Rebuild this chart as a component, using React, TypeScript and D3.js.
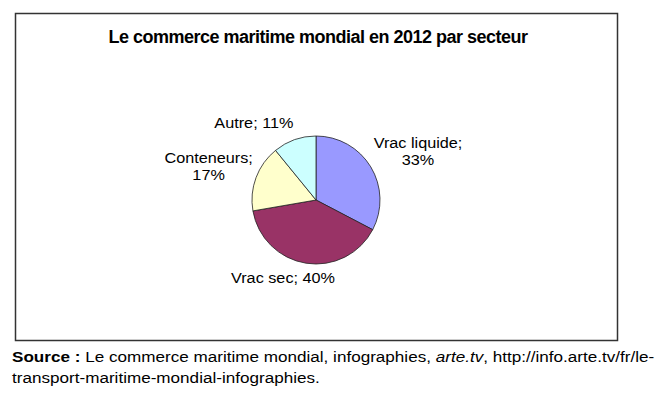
import * as React from 'react';
import {arc, pie, PieArcDatum} from 'd3';

const sectors = ['Vrac liquide', 'Vrac sec', 'Conteneurs', 'Autre'];
const shares = [33, 40, 17, 11];
const sectorColors = ['#9999FF', '#993366', '#FFFFCC', '#CCFFFF'];
// label line breaks as in the original chart
const labelLines = [['Vrac liquide;', '33%'], ['Vrac sec; 40%'], ['Conteneurs;', '17%'], ['Autre; 11%']];
const labelNudge = [[-3, -3], [-14, 1], [0, -3], [-25, -3]];

const width = 670;
const height = 396;
const cx = 316;
const cy = 200;
const radius = 64;
const font = '"Liberation Sans", Arial, sans-serif';
const labelSize = 14.5;
const stretch = 1.12; // the source picture is a bit wider than plain Arial
const lineHeight = 17;

type Slice = {name: string; value: number; i: number};

const data: Slice[] = sectors.map((name, i) => ({name, value: shares[i], i}));

const pieGen = pie<Slice>().value(d => d.value).sort(null);
const arcGen = arc<PieArcDatum<Slice>>().innerRadius(0).outerRadius(radius);

const approxWidth = (s: string) => s.length * labelSize * 0.5 * stretch;

const App = () => {
    const arcs = pieGen(data);
    return (
        <svg width={width} height={height} style={{position: 'absolute', left: 0, top: 0}}>
            <rect x={0} y={0} width={width} height={height} fill="#fff"/>
            <rect x={15.5} y={13.5} width={602} height={327} fill="#fff" stroke="#333" strokeWidth={1.5}/>
            <text x={318} y={43} textAnchor="middle" fontFamily={font} fontWeight="bold"
                  fontSize={18} letterSpacing={-0.5}>
                Le commerce maritime mondial en 2012 par secteur
            </text>
            <g transform={`translate(${cx},${cy})`}>
                {arcs.map(a => (
                    <path key={a.data.name} d={arcGen(a) || ''} fill={sectorColors[a.data.i]}
                          stroke="#222" strokeWidth={0.8}/>
                ))}
                {arcs.map(a => {
                    const mid = (a.startAngle + a.endAngle) / 2;
                    const lines = labelLines[a.data.i];
                    const w = Math.max(...lines.map(approxWidth));
                    const h = lines.length * lineHeight;
                    const px = Math.sin(mid) * (radius + 6);
                    const py = -Math.cos(mid) * (radius + 6);
                    const bx = px + Math.sin(mid) * w / 2 + labelNudge[a.data.i][0];
                    const by = py - Math.cos(mid) * h / 2 + labelNudge[a.data.i][1];
                    return (
                        <text key={a.data.name} transform={`translate(${bx},${by}) scale(${stretch},1)`}
                              textAnchor="middle" fontFamily={font} fontSize={labelSize} fill="#000">
                            {lines.map((l, j) => (
                                <tspan key={j} x={0} y={-h / 2 + lineHeight * (j + 1) - 4}>{l}</tspan>
                            ))}
                        </text>
                    );
                })}
            </g>
            <g transform={`translate(12,0) scale(1.14,1)`} fontFamily={font} fontSize={15}>
                <text x={0} y={362}>
                    <tspan fontWeight="bold">Source :</tspan> Le commerce maritime mondial, infographies, <tspan
                    fontStyle="italic">arte.tv</tspan>, http://info.arte.tv/fr/le-
                </text>
                <text x={0} y={383}>transport-maritime-mondial-infographies.</text>
            </g>
        </svg>
    );
};

export default App;
